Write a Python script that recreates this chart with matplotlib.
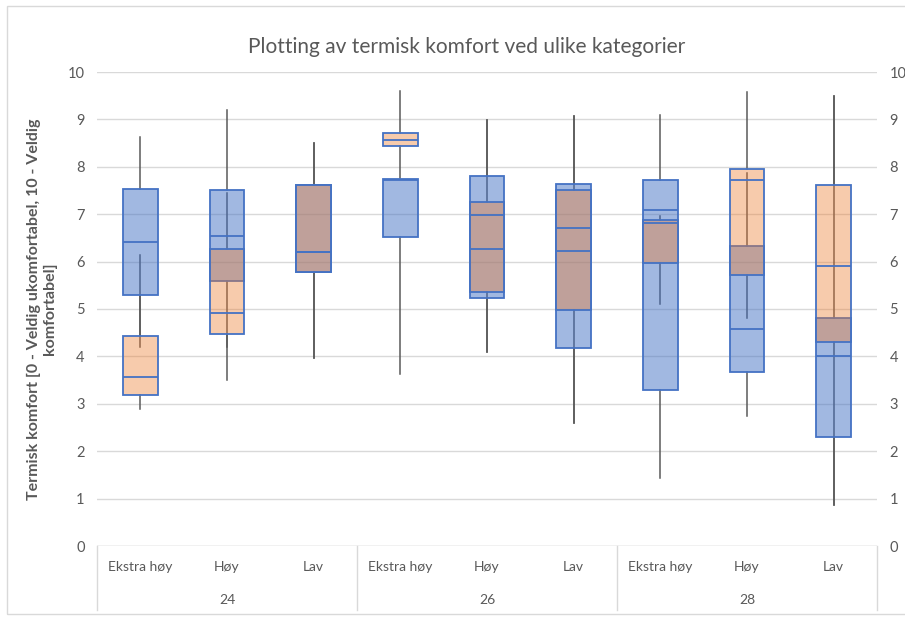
import matplotlib
matplotlib.use("Agg")
import matplotlib.pyplot as plt
import matplotlib.patches as patches
import matplotlib.transforms as mtransforms

# Kategorier (temperatur-gruppe x aktivitetsnivå)
groups = ["24", "26", "28"]
levels = ["Ekstra høy", "Høy", "Lav"]

# Serie 1 (blå): min, Q1, median, Q3, maks per kategori
blue_min = [4.19, 4.20, 3.96, 3.63, 4.10, 2.59, 1.43, 2.74, 0.87]
blue_q1 = [5.29, 5.60, 5.78, 6.52, 5.23, 4.17, 3.29, 3.68, 2.29]
blue_med = [6.41, 6.54, 6.21, 7.72, 6.26, 6.23, 7.09, 4.57, 4.00]
blue_q3 = [7.53, 7.50, 7.61, 7.74, 7.80, 7.64, 7.73, 6.32, 4.81]
blue_max = [8.62, 9.19, 8.50, 7.74, 8.98, 9.08, 9.10, 7.87, 9.50]

# Serie 2 (oransje)
orange_min = [2.90, 3.50, 3.96, 7.76, 4.10, 2.59, 5.10, 4.81, 0.87]
orange_q1 = [3.19, 4.48, 5.78, 8.43, 5.35, 4.98, 5.98, 5.72, 4.31]
orange_med = [3.57, 4.91, 6.21, 8.56, 6.98, 6.70, 6.82, 7.73, 5.90]
orange_q3 = [4.43, 6.27, 7.61, 8.71, 7.25, 7.50, 6.87, 7.96, 7.61]
orange_max = [6.14, 7.45, 8.50, 9.59, 8.98, 9.08, 6.97, 9.58, 9.50]

y_ticks = list(range(0, 11))
ylabel_lines = ["Termisk komfort [0 - Veldig ukomfortabel, 10 - Veldig",
                "komfortabel]"]

TXT = "#595959"
EDGE = "#4472C4"
plt.rcParams["font.family"] = ["Lato", "DejaVu Sans"]


def stats(lo, q1, med, q3, hi):
    return [dict(whislo=a, q1=b, med=c, q3=d, whishi=e, fliers=[])
            for a, b, c, d, e in zip(lo, q1, med, q3, hi)]


fig = plt.figure(figsize=(9.05, 6.17), dpi=100)
ax = fig.add_axes([97 / 905, 1 - 546 / 617, 780 / 905, 474 / 617])

positions = list(range(len(groups) * len(levels)))
common = dict(positions=positions, widths=0.4, patch_artist=True,
              showcaps=False, showfliers=False, manage_ticks=False,
              whiskerprops=dict(color="#5a5a5a", linewidth=1.1, zorder=1.5),
              medianprops=dict(color=EDGE, linewidth=1.3, zorder=4))

ax.bxp(stats(blue_min, blue_q1, blue_med, blue_q3, blue_max),
       boxprops=dict(facecolor=(68 / 255, 114 / 255, 196 / 255, 0.5),
                     edgecolor=EDGE, linewidth=1.3, zorder=2),
       **common)
ax.bxp(stats(orange_min, orange_q1, orange_med, orange_q3, orange_max),
       boxprops=dict(facecolor=(237 / 255, 125 / 255, 49 / 255, 0.4),
                     edgecolor=EDGE, linewidth=1.3, zorder=3),
       **common)

ax.set_xlim(-0.5, len(positions) - 0.5)
ax.set_ylim(0, 10)
ax.set_yticks(y_ticks)
ax.yaxis.grid(True, color="#d9d9d9", linewidth=1.0, zorder=0)
ax.set_axisbelow(True)
for s in ax.spines.values():
    s.set_visible(False)
ax.axhline(0, color="#d9d9d9", linewidth=1.0, zorder=1)
ax.tick_params(axis="y", length=0, labelsize=10.5, labelcolor=TXT,
               labelright=True, pad=9)
ax.tick_params(axis="x", bottom=False, labelbottom=False)

# Kategoriakse i to nivåer
trans = mtransforms.blended_transform_factory(ax.transData, ax.transAxes)
for i, p in enumerate(positions):
    ax.text(p, -0.044, levels[i % len(levels)], transform=trans,
            ha="center", va="center", fontsize=10, color=TXT)
for g, name in enumerate(groups):
    mid = g * len(levels) + (len(levels) - 1) / 2
    ax.text(mid, -0.114, name, transform=trans, ha="center", va="center",
            fontsize=10, color=TXT)
for b in range(len(groups) + 1):
    x = b * len(levels) - 0.5
    ax.plot([x, x], [0, -0.135], transform=trans, color="#d9d9d9",
            linewidth=1.0, clip_on=False)

fig.text(467 / 905, 1 - 47 / 617,
         "Plotting av termisk komfort ved ulike kategorier",
         ha="center", va="center", fontsize=15, color=TXT)

# y-aksetittel over to linjer, hver sentrert
for k, line in enumerate(ylabel_lines):
    fig.text((34 + 16 * k) / 905, 1 - 309 / 617, line,
             ha="center", va="center", rotation=90, fontsize=11.5,
             fontweight="bold", color=TXT)

# ramme rundt diagramområdet (høyre kant går ut av bildet)
fig.patches.append(patches.Rectangle((7 / 905, 3 / 617), 920 / 905, 608 / 617,
                                     transform=fig.transFigure, fill=False,
                                     edgecolor="#d9d9d9", linewidth=1.0))

plt.savefig("out.png", dpi=100)
